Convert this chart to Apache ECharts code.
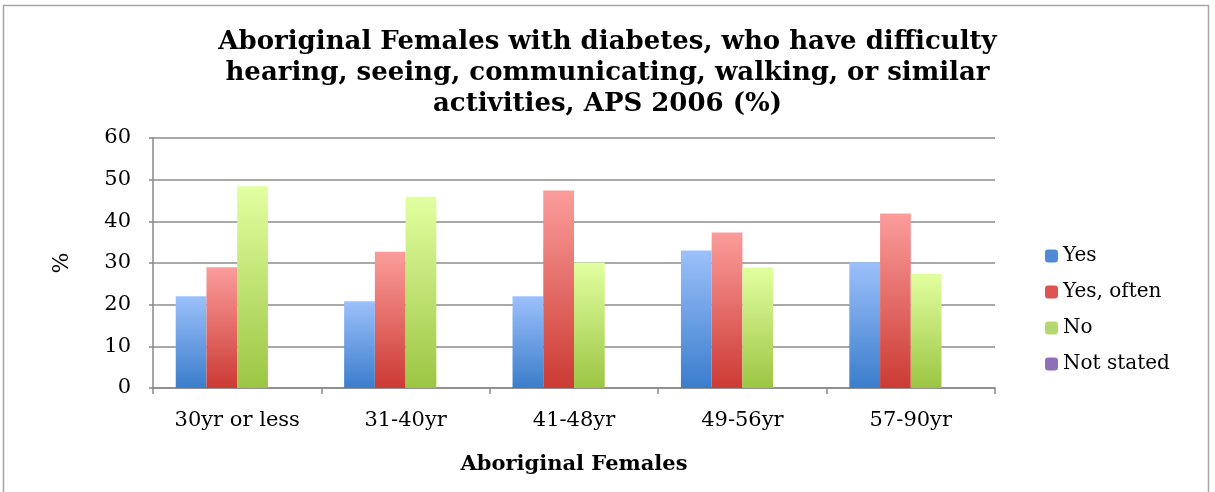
<!DOCTYPE html>
<html><head><meta charset="utf-8">
<script src="https://cdn.jsdelivr.net/npm/echarts@6/dist/echarts.min.js"></script>
<style>html,body{margin:0;padding:0;background:#fff}#c{width:1215px;height:492px}</style>
</head><body><div id="c"></div>
<script>
const categories = ['30yr or less','31-40yr','41-48yr','49-56yr','57-90yr'];
const yesValues = [22.0, 20.8, 22.0, 33.0, 30.2];
const yesOftenValues = [29.0, 32.7, 47.4, 37.3, 41.9];
const noValues = [48.4, 45.9, 30.1, 28.9, 27.4];
const notStatedValues = [0, 0, 0, 0, 0];
const seriesNames = ['Yes','Yes, often','No','Not stated'];
const yTicks = [0,10,20,30,40,50,60];

function grad(top, bottom){
  return new echarts.graphic.LinearGradient(0,0,0,1,[{offset:0,color:top},{offset:1,color:bottom}]);
}
const colors = [grad('#9cc0fa','#3b7dcc'), grad('#fb9d9b','#cc3a34'), grad('#e2ffa0','#9cc543'), grad('#b9a0d8','#7b5ba8')];
const legendColors = ['#4f8ad6','#dc5552','#b5d970','#8e6fb8'];
const font = '"DejaVu Serif", serif';
const data = [yesValues, yesOftenValues, noValues, notStatedValues];

const chart = echarts.init(document.getElementById('c'));
chart.setOption({
  animation:false,
  backgroundColor:'#fff',
  graphic:[{type:'rect',shape:{x:3.5,y:5.5,width:1205,height:490},style:{fill:'none',stroke:'#a6a6a6',lineWidth:1.5}}],
  title:{text:'Aboriginal Females with diabetes, who have difficulty\nhearing, seeing, communicating, walking, or similar\nactivities, APS 2006 (%)',
    left:'center', top:22,
    textStyle:{fontFamily:font,fontWeight:'bold',fontSize:26,lineHeight:31,color:'#000'}},
  legend:{orient:'vertical',left:1040,top:241,itemGap:16,itemWidth:13,itemHeight:13,
    data:seriesNames.map((n,i)=>({name:n,itemStyle:{color:legendColors[i]}})),
    textStyle:{fontFamily:font,fontSize:20,color:'#000'}},
  grid:{left:153,right:220,top:138,bottom:104,containLabel:false},
  xAxis:{type:'category',data:categories,
    name:'Aboriginal Females',nameLocation:'middle',nameGap:66,
    nameTextStyle:{fontFamily:font,fontWeight:'bold',fontSize:21,color:'#000'},
    axisLine:{lineStyle:{color:'#888',width:1.5}},
    axisTick:{show:true,length:6,lineStyle:{color:'#888',width:1.5}},
    axisLabel:{fontFamily:font,fontSize:21,color:'#000',margin:22}},
  yAxis:{type:'value',min:0,max:60,interval:10,
    name:'%',nameLocation:'middle',nameGap:80,nameRotate:90,
    nameTextStyle:{fontFamily:font,fontSize:22,color:'#000'},
    axisLine:{show:true,lineStyle:{color:'#888',width:1.5}},
    axisTick:{show:true,length:4,inside:false,lineStyle:{color:'#888',width:1.5}},
    axisLabel:{fontFamily:font,fontSize:21,color:'#000',margin:22,formatter:v=>yTicks.includes(v)?String(v):''},
    splitLine:{lineStyle:{color:'#8c8c8c',width:1.5}}},
  series:seriesNames.map((n,i)=>({
    name:n,type:'bar',data:data[i],barGap:'0%',barCategoryGap:'27%',
    itemStyle:{color:colors[i]}
  }))
});
</script></body></html>
